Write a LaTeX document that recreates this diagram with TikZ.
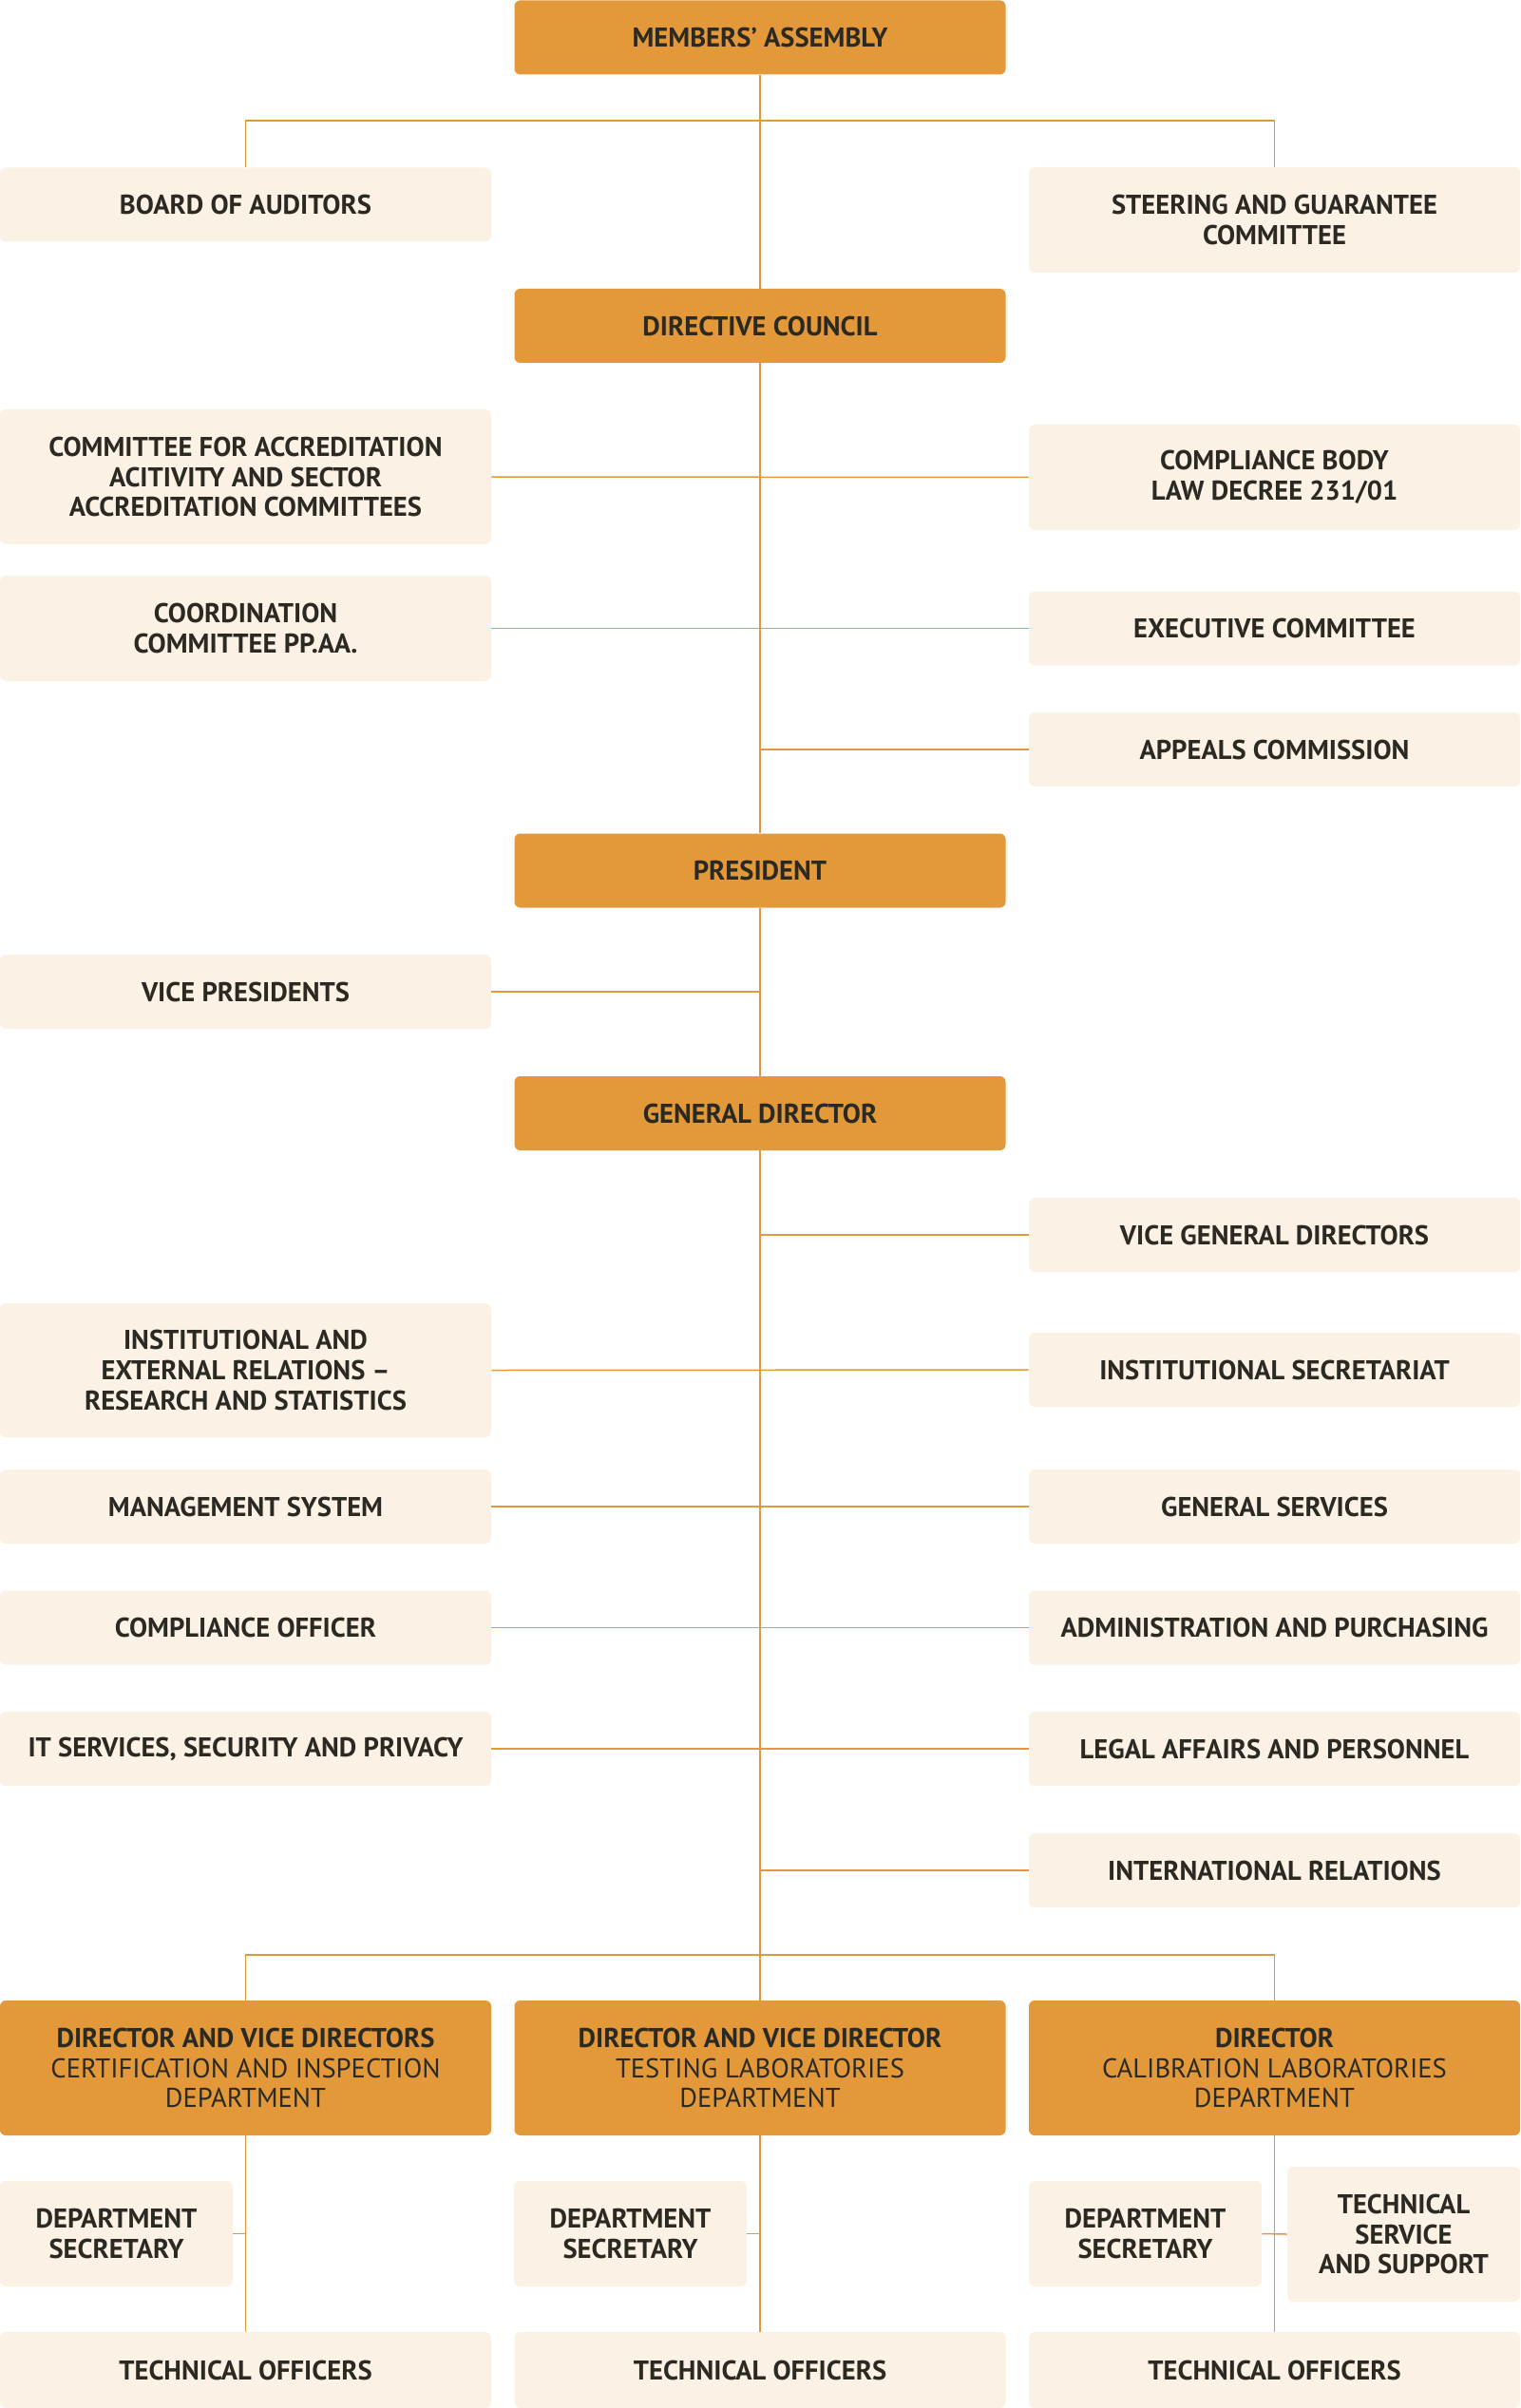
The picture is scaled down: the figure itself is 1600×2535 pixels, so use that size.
\documentclass[tikz,border=0pt]{standalone}
\usepackage{fontspec}
\setmainfont{PT Sans}
\definecolor{boxorange}{HTML}{E3993A}
\definecolor{boxcream}{HTML}{FCF1E5}
\definecolor{ink}{HTML}{2B2A22}
\tikzset{
  head/.style={fill=boxorange, rounded corners=3pt, minimum width=258.5pt, minimum height=39pt, inner sep=0pt,
    align=center, text=ink, font=\bfseries\fontsize{14.3}{15.8}\selectfont},
  unit/.style={head, fill=boxcream},
  dept/.style={head, minimum height=71pt, font=\fontsize{14.3}{15.8}\selectfont},
  link/.style={draw=boxorange, line width=0.75pt}
}
\begin{document}
\begin{tikzpicture}[x=0.5pt,y=-0.5pt]
  \useasboundingbox (0,0) rectangle (1600,2535);
  \node[head] (ma) at (800,39.5) {MEMBERS’ ASSEMBLY};
  \node[unit] (boa) at (258.5,215.5) {BOARD OF AUDITORS};
  \node[unit, minimum height=55.5pt] (sgc) at (1341.5,231.5) {STEERING AND GUARANTEE\\COMMITTEE};
  \node[head] (dc) at (800,343) {DIRECTIVE COUNCIL};
  \node[unit, minimum height=71pt] (cfa) at (258.5,502) {COMMITTEE FOR ACCREDITATION\\ACITIVITY AND SECTOR\\ACCREDITATION COMMITTEES};
  \node[unit, minimum height=55.5pt] (cb) at (1341.5,502.5) {COMPLIANCE BODY\\LAW DECREE 231/01};
  \node[unit, minimum height=55.5pt] (cpa) at (258.5,661.5) {COORDINATION\\COMMITTEE PP.AA.};
  \node[unit] (ec) at (1341.5,661.5) {EXECUTIVE COMMITTEE};
  \node[unit] (ac) at (1341.5,789) {APPEALS COMMISSION};
  \node[head] (pr) at (800,916.5) {PRESIDENT};
  \node[unit] (vp) at (258.5,1044) {VICE PRESIDENTS};
  \node[head] (gd) at (800,1172) {GENERAL DIRECTOR};
  \node[unit] (vgd) at (1341.5,1300) {VICE GENERAL DIRECTORS};
  \node[unit, minimum height=70.5pt] (ier) at (258.5,1442.5) {INSTITUTIONAL AND\\EXTERNAL RELATIONS –\\RESEARCH AND STATISTICS};
  \node[unit] (is) at (1341.5,1442) {INSTITUTIONAL SECRETARIAT};
  \node[unit] (ms) at (258.5,1586) {MANAGEMENT SYSTEM};
  \node[unit] (gs) at (1341.5,1586) {GENERAL SERVICES};
  \node[unit] (co) at (258.5,1713.5) {COMPLIANCE OFFICER};
  \node[unit] (ap) at (1341.5,1713.5) {ADMINISTRATION AND PURCHASING};
  \node[unit] (it) at (258.5,1841) {IT SERVICES, SECURITY AND PRIVACY};
  \node[unit] (la) at (1341.5,1841) {LEGAL AFFAIRS AND PERSONNEL};
  \node[unit] (ir) at (1341.5,1969) {INTERNATIONAL RELATIONS};
  \coordinate (bus) at (800,2058);
  \node[dept] (d1) at (258.5,2177) {{\bfseries DIRECTOR AND VICE DIRECTORS}\\CERTIFICATION AND INSPECTION\\DEPARTMENT};
  \node[dept] (d2) at (800,2177) {{\bfseries DIRECTOR AND VICE DIRECTOR}\\TESTING LABORATORIES\\DEPARTMENT};
  \node[dept] (d3) at (1341.5,2177) {{\bfseries DIRECTOR}\\CALIBRATION LABORATORIES\\DEPARTMENT};
  \node[unit, minimum width=122.5pt, minimum height=55.5pt] (s1) at (122.5,2351.5) {DEPARTMENT\\SECRETARY};
  \node[unit, minimum width=122.5pt, minimum height=55.5pt] (s2) at (663.5,2351.5) {DEPARTMENT\\SECRETARY};
  \node[unit, minimum width=122.5pt, minimum height=55.5pt] (s3) at (1205.5,2351.5) {DEPARTMENT\\SECRETARY};
  \node[unit, minimum width=122.5pt, minimum height=71pt] (ts) at (1477.5,2352) {TECHNICAL\\SERVICE\\AND SUPPORT};
  \node[unit, minimum height=40pt] (t1) at (258.5,2495) {TECHNICAL OFFICERS};
  \node[unit, minimum height=40pt] (t2) at (800,2495) {TECHNICAL OFFICERS};
  \node[unit, minimum height=40pt] (t3) at (1341.5,2495) {TECHNICAL OFFICERS};
  \begin{scope}[on background layer/.try]
    \draw[link] (ma) -- (dc);
    \draw[link] (dc) -- (pr);
    \draw[link] (pr) -- (gd);
    \draw[link] (gd) -- (bus);
    \draw[link] (boa.north) -- (boa.north |- 0,127) -- (sgc.north |- 0,127) -- (sgc.north);
    \draw[link] (cfa.east) -- (cb.west);
    \draw[link] (cpa.east) -- (ec.west);
    \draw[link] (ac.west) -- (ac.west -| dc.south);
    \draw[link] (vp.east) -- (vp.east -| pr.south);
    \draw[link] (vgd.west) -- (vgd.west -| gd.south);
    \draw[link] (ier.east) -- (is.west);
    \draw[link] (ms) -- (gs);
    \draw[link] (co) -- (ap);
    \draw[link] (it) -- (la);
    \draw[link] (ir.west) -- (ir.west -| bus);
    \draw[link] (d1.north) -- (d1.north |- bus) -- (d3.north |- bus) -- (d3.north);
    \draw[link] (bus) -- (d2.north);
    \draw[link] (d1) -- (t1);
    \draw[link] (d2) -- (t2);
    \draw[link] (d3) -- (t3);
    \draw[link] (s1.east) -- (s1.east -| d1.south);
    \draw[link] (s2.east) -- (s2.east -| d2.south);
    \draw[link] (s3.east) -- (ts.west);
  \end{scope}
\end{tikzpicture}
\end{document}
